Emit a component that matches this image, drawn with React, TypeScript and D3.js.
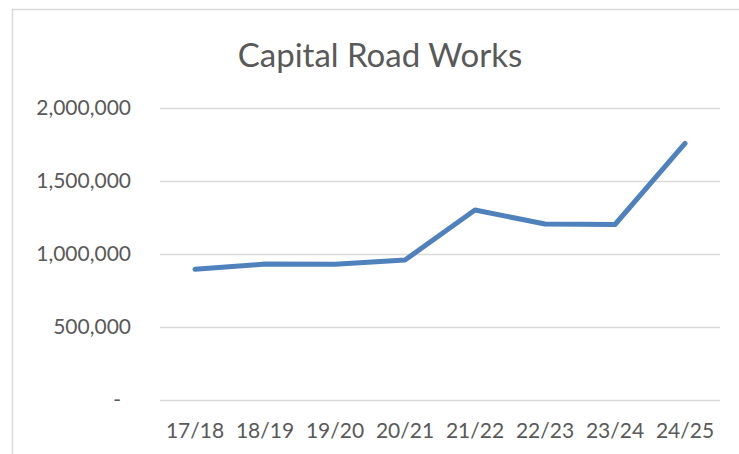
import React, { useRef, useEffect } from "react";
import * as d3 from "d3";

const years = ["17/18", "18/19", "19/20", "20/21", "21/22", "22/23", "23/24", "24/25"];
const spend = [895000, 931000, 930000, 959000, 1301000, 1205000, 1202000, 1757000];
const yTicks = [0, 500000, 1000000, 1500000, 2000000];
const title = "Capital Road Works";

const App = () => {
  const chartRef = useRef<SVGSVGElement | null>(null);
  const width = 739;
  const height = 454;

  useEffect(() => {
    const svg = d3.select(chartRef.current);
    svg.selectAll("*").remove();

    const font = "Lato, 'Open Sans', sans-serif";
    const textColor = "#595959";
    const margin = { left: 160, right: 19, top: 108, bottom: 54 };

    // chart frame (cut off at right and bottom in the original)
    svg
      .append("rect")
      .attr("x", 12.5)
      .attr("y", 9.5)
      .attr("width", 740)
      .attr("height", 460)
      .attr("fill", "#fff")
      .attr("stroke", "#d9d9d9")
      .attr("stroke-width", 1.5);

    const x = d3
      .scaleBand()
      .domain(years)
      .range([margin.left, width - margin.right]);
    const y = d3
      .scaleLinear()
      .domain([0, 2000000])
      .range([height - margin.bottom, margin.top]);

    svg
      .append("text")
      .attr("x", 380)
      .attr("y", 55)
      .attr("dy", "0.35em")
      .attr("text-anchor", "middle")
      .style("font-family", font)
      .style("font-size", "33px")
      .style("fill", textColor)
      .text(title);

    // gridlines
    svg
      .append("g")
      .selectAll("line")
      .data(yTicks)
      .enter()
      .append("line")
      .attr("x1", margin.left)
      .attr("x2", width - margin.right)
      .attr("y1", (d) => Math.round(y(d)) + 0.5)
      .attr("y2", (d) => Math.round(y(d)) + 0.5)
      .attr("stroke", "#d9d9d9")
      .attr("stroke-width", 1.5);

    const fmt = d3.format(",");
    svg
      .append("g")
      .selectAll("text")
      .data(yTicks)
      .enter()
      .append("text")
      .attr("x", (d) => (d === 0 ? 121 : 131))
      .attr("y", (d) => y(d))
      .attr("dy", "0.35em")
      .attr("text-anchor", "end")
      .style("font-family", font)
      .style("font-size", "21px")
      .style("fill", textColor)
      .text((d) => (d === 0 ? "-" : fmt(d)));

    svg
      .append("g")
      .selectAll("text")
      .data(years)
      .enter()
      .append("text")
      .attr("x", (d) => (x(d) as number) + x.bandwidth() / 2)
      .attr("y", 431)
      .attr("dy", "0.35em")
      .attr("text-anchor", "middle")
      .style("font-family", font)
      .style("font-size", "21px")
      .style("fill", textColor)
      .text((d) => d);

    const line = d3
      .line<number>()
      .x((d, i) => (x(years[i]) as number) + x.bandwidth() / 2)
      .y((d) => y(d));

    svg
      .append("path")
      .datum(spend)
      .attr("d", line)
      .attr("fill", "none")
      .attr("stroke", "#4f81bd")
      .attr("stroke-width", 5)
      .attr("stroke-linecap", "round")
      .attr("stroke-linejoin", "round");
  }, []);

  return (
    <svg
      ref={chartRef}
      width={width}
      height={height}
      style={{ position: "absolute", left: 0, top: 0 }}
    ></svg>
  );
};

export default App;
